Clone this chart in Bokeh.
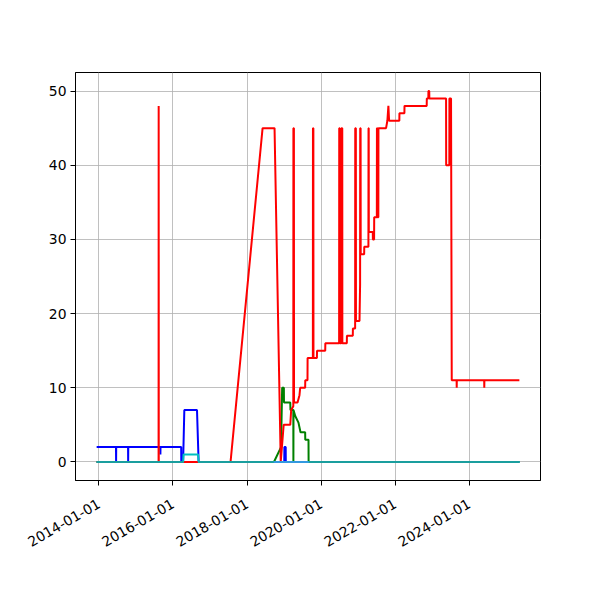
import math
import pandas as pd
from bokeh.plotting import figure
from bokeh.models import Range1d, FixedTicker, DatetimeTickFormatter
from bokeh.embed import file_html
from bokeh.resources import INLINE

# ---------------- data ----------------
red_dates = ["2013-12-09", "2015-08-12", "2015-08-13", "2015-08-14",
             "2017-07-22", "2018-06-03", "2018-09-29", "2018-11-29", "2018-12-28",
             "2019-03-03", "2019-03-12", "2019-04-02", "2019-04-03", "2019-04-08", "2019-04-09",
             "2019-05-14", "2019-06-02", "2019-06-09", "2019-07-28", "2019-07-29",
             "2019-08-20", "2019-08-21", "2019-10-12", "2019-10-13", "2019-10-17", "2019-10-18",
             "2019-11-21", "2019-11-22", "2020-02-11", "2020-02-12",
             "2020-06-27", "2020-06-28", "2020-07-03", "2020-07-04",
             "2020-07-18", "2020-07-19", "2020-07-28", "2020-07-29",
             "2020-09-11", "2020-09-12", "2020-11-09", "2020-11-10",
             "2020-12-02", "2020-12-03", "2020-12-09", "2020-12-10",
             "2021-01-14", "2021-01-20", "2021-01-21", "2021-01-25", "2021-01-26",
             "2021-03-01", "2021-03-02", "2021-04-12", "2021-04-13", "2021-04-15", "2021-04-16",
             "2021-05-25", "2021-05-26", "2021-06-07", "2021-06-08",
             "2021-07-04", "2021-07-05", "2021-07-09", "2021-07-10", "2021-07-19", "2021-07-20",
             "2021-10-03", "2021-10-16", "2021-10-26", "2021-11-02",
             "2022-02-11", "2022-02-12", "2022-04-02", "2022-04-03",
             "2022-11-08", "2022-11-09", "2022-11-24", "2022-11-25", "2022-12-03", "2022-12-04",
             "2023-05-18", "2023-05-19", "2023-06-19", "2023-06-20",
             "2023-07-06", "2023-07-13", "2023-08-30", "2023-08-31", "2023-09-01",
             "2024-05-28", "2024-05-29", "2024-05-30", "2025-05-10"]
red_values = [0, 0, 48, 0,
              0, 45, 45, 0, 5,
              5, 7, 7.5, 45, 45, 8,
              8, 9, 10, 10, 11,
              11, 14, 14, 45, 45, 14,
              14, 15, 15, 16,
              16, 45, 45, 16,
              16, 45, 45, 16,
              16, 17, 17, 18,
              18, 45, 45, 19,
              19, 24, 45, 45, 28,
              28, 29, 29, 45, 45, 31,
              31, 30, 30, 33,
              33, 45, 45, 33, 33, 45,
              45, 46, 48, 46,
              46, 47, 47, 48,
              48, 49, 49, 50, 50, 49,
              49, 40, 40, 49,
              49, 11, 11, 10, 11,
              11, 10, 11, 11]

blue_dates = ["2013-12-09", "2014-06-18", "2014-06-19", "2014-06-20",
              "2014-10-15", "2014-10-16", "2014-10-17",
              "2015-08-29", "2015-08-30", "2015-08-31",
              "2016-03-22", "2016-03-23", "2016-04-10", "2016-04-22",
              "2016-08-25", "2016-09-10",
              "2019-01-03", "2019-01-04", "2019-01-17", "2019-01-18", "2025-05-10"]
blue_values = [2, 2, 0, 2,
               2, 0, 2,
               2, 1, 2,
               2, 0, 0, 7,
               7, 0,
               0, 2, 2, 0, 0]

green_dates = ["2013-12-09", "2018-09-23", "2018-12-02", "2018-12-13", "2018-12-30", "2018-12-31",
               "2019-03-03", "2019-03-05", "2019-04-02", "2019-04-03", "2019-04-04",
               "2019-04-21", "2019-05-23", "2019-06-09", "2019-06-12", "2019-07-28", "2019-07-29",
               "2019-08-30", "2019-08-31", "2025-05-10"]
green_values = [0, 0, 2, 10, 10, 8,
                8, 7, 7, 0, 7,
                6.2, 5.3, 4.2, 4, 4, 3,
                3, 0, 0]

cyan_dates = ["2013-12-09", "2016-04-10", "2016-04-14", "2016-09-05", "2016-09-10", "2025-05-10"]
cyan_values = [0, 0, 1, 1, 0, 0]

teal_starts = ["2013-12-09", "2016-09-10", "2019-08-31"]
teal_ends = ["2016-04-10", "2018-09-22", "2025-05-10"]
teal_value = 0

lightblue_dates = ["2018-09-22", "2019-08-31"]
lightblue_values = [0, 0]

x_tick_labels = ["2014-01-01", "2016-01-01", "2018-01-01", "2020-01-01", "2022-01-01", "2024-01-01"]
y_ticks = [0, 10, 20, 30, 40, 50]

# ---------------- ranges (matplotlib-like 5% margins) ----------------
all_dates = pd.to_datetime(red_dates + blue_dates + green_dates + cyan_dates)
xmin, xmax = all_dates.min(), all_dates.max()
xspan = xmax - xmin
all_vals = red_values + blue_values + green_values + cyan_values
vmin, vmax = min(all_vals), max(all_vals)
vpad = 0.05 * (vmax - vmin)

p = figure(width=584, height=584, x_axis_type="datetime",
           x_range=Range1d(xmin - 0.05 * xspan, xmax + 0.05 * xspan),
           y_range=Range1d(vmin - vpad, vmax + vpad),
           output_backend="svg", toolbar_location=None,
           min_border_left=75, min_border_right=44, min_border_top=72, min_border_bottom=104)

p.background_fill_color = "white"
p.border_fill_color = "white"
p.outline_line_color = "black"
p.outline_line_width = 1
p.outline_line_alpha = 1

lw = 2
p.line(pd.to_datetime(blue_dates), blue_values, line_color="#0000ff", line_width=lw)
p.line(pd.to_datetime(green_dates), green_values, line_color="#008000", line_width=lw)
p.line(pd.to_datetime(red_dates), red_values, line_color="#ff0000", line_width=lw)
p.line(pd.to_datetime(cyan_dates), cyan_values, line_color="#00bfbf", line_width=lw)
for s, e in zip(teal_starts, teal_ends):
    p.line(pd.to_datetime([s, e]), [teal_value, teal_value], line_color="#1a9e9e", line_width=lw)
p.line(pd.to_datetime(lightblue_dates), lightblue_values, line_color="#3399e0", line_width=lw)

# axes
tick_ms = [pd.Timestamp(t).timestamp() * 1000 for t in x_tick_labels]
p.xaxis.ticker = FixedTicker(ticks=tick_ms)
fmt = "%Y-%m-%d"
p.xaxis.formatter = DatetimeTickFormatter(years=fmt, months=fmt, days=fmt, hours=fmt,
                                          minutes=fmt, seconds=fmt, milliseconds=fmt,
                                          microseconds=fmt, minsec=fmt, hourmin=fmt)
p.xaxis.major_label_orientation = math.pi / 6
p.yaxis.ticker = FixedTicker(ticks=y_ticks)

for ax in (p.xaxis, p.yaxis):
    ax.axis_line_color = "black"
    ax.axis_line_width = 1
    ax.major_tick_line_color = "black"
    ax.major_tick_line_width = 1
    ax.major_tick_out = 5
    ax.major_tick_in = 0
    ax.minor_tick_line_color = None
    ax.major_label_text_font = "DejaVu Sans"
    ax.major_label_text_font_size = "13.9px"
    ax.major_label_text_color = "black"
    ax.major_label_standoff = 4
p.xaxis.major_label_standoff = 17

p.grid.grid_line_color = "#b0b0b0"
p.grid.grid_line_width = 0.8
p.grid.grid_line_alpha = 1

open("out.html", "w").write(file_html(p, INLINE))
